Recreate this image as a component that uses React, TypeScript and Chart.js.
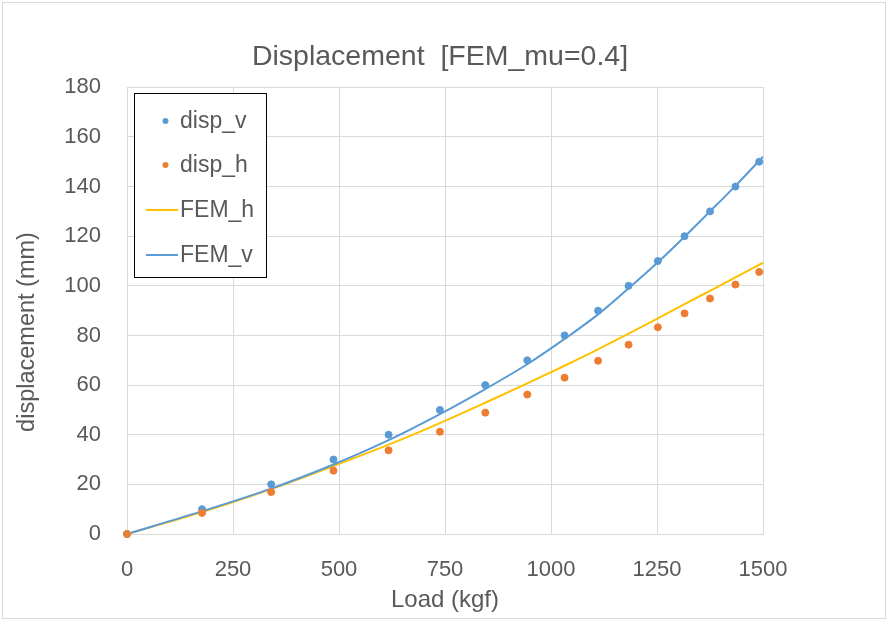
import { useEffect, useRef } from "react";
import { Chart, registerables } from "chart.js";

Chart.register(...registerables);

// ---- data ----
const loadExp = [0, 177, 340, 487, 617, 738, 845, 944, 1032, 1111, 1183, 1252, 1315, 1375, 1435, 1491];
const dispV = [0, 10, 20, 30, 40, 50, 60, 70, 80, 90, 100, 110, 120, 130, 140, 150];
const dispH = [0, 8.5, 16.9, 25.5, 33.7, 41.2, 48.9, 56.2, 63, 69.8, 76.3, 83.3, 88.9, 94.9, 100.5, 105.6];

const loadFem = [0, 177, 340, 487, 617, 738, 845, 944, 1032, 1111, 1183, 1252, 1315, 1375, 1435, 1500];
const femV = [0, 9.2, 18.3, 28, 37.8, 48.3, 58.4, 68.4, 78.6, 88.5, 99, 109.5, 119.8, 130, 140.3, 152];
const femH = [0, 8.8, 18.1, 27.4, 36.0, 44.7, 52.9, 60.7, 67.8, 74.4, 80.7, 86.9, 92.6, 98.0, 103.4, 109.3];

const seriesLabels = ["disp_v", "disp_h", "FEM_h", "FEM_v"];
const chartTitle = "Displacement  [FEM_mu=0.4]";
const xTitle = "Load (kgf)";
const yTitle = "displacement (mm)";

const BLUE = "#5B9BD5";
const ORANGE = "#ED7D31";
const YELLOW = "#FFC000";
const TEXT = "#595959";
const GRID = "#D9D9D9";
const FONT = "'Liberation Sans', Arial, Helvetica, sans-serif";

const framePlugin = {
  id: "frame",
  beforeDraw(chart: any) {
    const c = chart.ctx;
    c.save();
    c.fillStyle = "#ffffff";
    c.fillRect(0, 0, chart.width, chart.height);
    c.strokeStyle = GRID;
    c.lineWidth = 1;
    c.strokeRect(2.5, 2.5, chart.width - 5, chart.height - 4);
    c.restore();
  },
};

const titlesPlugin = {
  id: "titlesCustom",
  afterDraw(chart: any) {
    const c = chart.ctx;
    c.save();
    c.fillStyle = TEXT;
    c.textAlign = "center";
    c.textBaseline = "middle";
    c.font = `28.5px ${FONT}`;
    c.fillText(chartTitle, 440, 57);
    c.translate(28, 332);
    c.rotate(-Math.PI / 2);
    c.font = `23.5px ${FONT}`;
    c.fillText(yTitle, 0, 0);
    c.restore();
  },
};

const legendPlugin = {
  id: "boxLegend",
  afterDraw(chart: any) {
    const c = chart.ctx;
    const x0 = 134.5, y0 = 93.5, w = 132, h = 184;
    c.save();
    c.fillStyle = "#ffffff";
    c.fillRect(x0, y0, w, h);
    c.strokeStyle = "#000000";
    c.lineWidth = 1;
    c.strokeRect(x0, y0, w, h);
    const rows = [121, 165, 210, 255];
    const ds = chart.data.datasets;
    c.font = `23px ${FONT}`;
    c.textBaseline = "middle";
    c.textAlign = "left";
    ds.forEach((d: any, i: number) => {
      const y = rows[i];
      if (d.showLine) {
        c.strokeStyle = d.borderColor;
        c.lineWidth = 2;
        c.beginPath();
        c.moveTo(146, y);
        c.lineTo(178, y);
        c.stroke();
      } else {
        c.fillStyle = d.backgroundColor;
        c.beginPath();
        c.arc(165.5, y, 3, 0, Math.PI * 2);
        c.fill();
      }
      c.fillStyle = TEXT;
      c.fillText(d.label, 180, y + 1);
    });
    c.restore();
  },
};

export default function App() {
  const ref = useRef<HTMLCanvasElement>(null);
  useEffect(() => {
    document.body.style.margin = "0";
    const canvas = ref.current!;
    const chart = new Chart(canvas, {
      type: "scatter",
      data: {
        datasets: [
          {
            label: seriesLabels[0],
            data: loadExp.map((x, i) => ({ x, y: dispV[i] })),
            backgroundColor: BLUE,
            borderColor: BLUE,
            pointRadius: 3.5,
            pointBorderWidth: 1,
            showLine: false,
            clip: false,
            order: 1,
          },
          {
            label: seriesLabels[1],
            data: loadExp.map((x, i) => ({ x, y: dispH[i] })),
            backgroundColor: ORANGE,
            borderColor: ORANGE,
            pointRadius: 3.5,
            pointBorderWidth: 1,
            showLine: false,
            clip: false,
            order: 0,
          },
          {
            label: seriesLabels[2],
            data: loadFem.map((x, i) => ({ x, y: femH[i] })),
            borderColor: YELLOW,
            backgroundColor: YELLOW,
            borderWidth: 2,
            pointRadius: 0,
            showLine: true,
            cubicInterpolationMode: "monotone",
            order: 3,
          },
          {
            label: seriesLabels[3],
            data: loadFem.map((x, i) => ({ x, y: femV[i] })),
            borderColor: BLUE,
            backgroundColor: BLUE,
            borderWidth: 2,
            pointRadius: 0,
            showLine: true,
            cubicInterpolationMode: "monotone",
            order: 2,
          },
        ],
      },
      options: {
        responsive: false,
        animation: false,
        layout: { padding: { left: 0, right: 125, top: 87.3, bottom: 0 } },
        plugins: {
          legend: { display: false },
          tooltip: { enabled: false },
          title: { display: false },
        },
        scales: {
          x: {
            type: "linear",
            min: 0,
            max: 1500,
            ticks: {
              stepSize: 250,
              padding: 23,
              color: TEXT,
              font: { family: FONT, size: 22 },
              callback: (v: any) => String(v),
            },
            grid: { color: GRID, drawTicks: false },
            border: { color: GRID },
            title: {
              display: true,
              text: xTitle,
              color: TEXT,
              font: { family: FONT, size: 24 },
              padding: { top: 5.6, bottom: 5.6 },
            },
            afterFit: (s: any) => {
              s.height = 86;
            },
          },
          y: {
            type: "linear",
            min: 0,
            max: 180,
            ticks: {
              stepSize: 20,
              padding: 26,
              color: TEXT,
              font: { family: FONT, size: 22 },
              callback: (v: any) => String(v),
            },
            grid: { color: GRID, drawTicks: false },
            border: { color: GRID },
            afterFit: (s: any) => {
              s.width = 127;
            },
          },
        },
      },
      plugins: [framePlugin, titlesPlugin, legendPlugin],
    } as any);
    return () => chart.destroy();
  }, []);
  return <canvas ref={ref} width={888} height={620} style={{ display: "block" }} />;
}
